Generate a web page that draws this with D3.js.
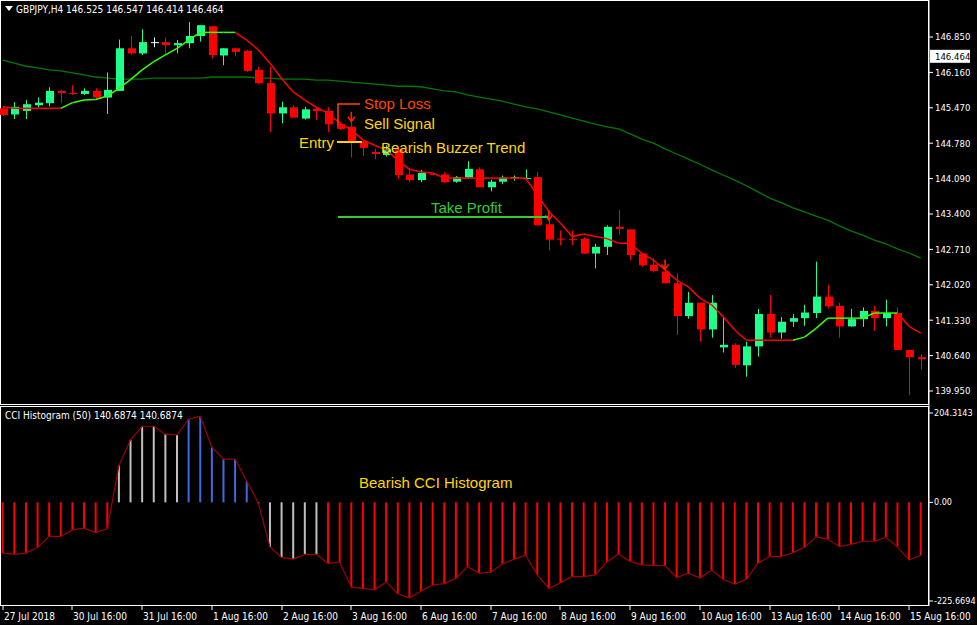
<!DOCTYPE html>
<html><head><meta charset="utf-8">
<script src="https://cdn.jsdelivr.net/npm/d3@7"></script>
<style>body{margin:0;background:#000}svg{display:block}text{font-family:"DejaVu Sans Condensed","DejaVu Sans",sans-serif}.ann{font-family:"Liberation Sans",Arial,sans-serif}</style>
</head><body><svg id="c" width="977" height="625"></svg>
<script>
// GBPJPY H4 candles (open, high, low, close)
var opens  = [145.46,145.34,145.41,145.52,145.56,145.80,145.76,145.74,145.80,145.67,145.80,146.63,146.53,146.75,146.75,146.69,146.73,146.87,147.06,146.49,146.63,146.58,146.21,145.95,145.36,145.48,145.26,145.45,145.41,145.15,145.10,144.82,144.61,144.55,144.66,144.17,144.06,144.18,144.17,144.03,144.11,144.27,143.92,144.03,144.10,144.08,144.12,143.20,142.92,142.91,142.92,142.63,142.76,143.15,143.10,142.63,142.41,142.28,142.05,141.41,141.67,141.15,140.80,140.85,140.45,140.82,141.45,141.09,141.30,141.37,141.47,141.79,141.61,141.21,141.35,141.51,141.37,141.47,140.75,140.61];
var highs  = [145.49,145.58,145.62,145.67,145.87,145.82,145.91,145.85,145.85,146.16,146.80,146.87,147.00,146.84,146.84,146.79,147.14,147.08,147.06,146.63,146.63,146.60,146.27,146.27,145.59,145.52,145.49,145.48,145.48,145.20,145.20,144.82,144.67,144.74,144.68,144.30,144.26,144.22,144.22,144.14,144.43,144.31,144.07,144.15,144.15,144.27,144.22,143.28,143.08,143.08,142.95,142.82,143.18,143.48,143.10,142.63,142.54,142.32,142.24,141.88,141.67,141.82,141.38,140.88,140.91,141.55,141.82,141.39,141.45,141.63,142.47,142.02,141.67,141.55,141.58,141.61,141.73,141.58,140.75,140.67];
var lows   = [145.31,145.25,145.25,145.48,145.50,145.56,145.72,145.72,145.62,145.35,145.80,146.50,146.50,146.65,146.50,146.53,146.63,146.76,146.43,146.30,146.47,146.17,145.93,145.00,145.17,145.28,145.24,145.23,145.00,145.04,144.50,144.53,144.47,144.52,144.08,144.02,144.02,144.15,144.01,144.01,144.09,143.92,143.84,143.98,144.05,144.07,143.18,142.69,142.79,142.79,142.62,142.34,142.60,142.99,142.50,142.37,142.26,142.04,141.04,141.36,140.91,140.99,140.70,140.40,140.23,140.62,140.99,140.97,141.20,141.22,141.37,141.56,140.99,141.20,141.20,141.12,141.21,140.75,139.87,140.37];
var closes = [145.33,145.49,145.54,145.57,145.80,145.76,145.74,145.80,145.67,145.82,146.63,146.53,146.75,146.75,146.69,146.73,146.87,147.08,146.50,146.63,146.56,146.19,145.95,145.36,145.48,145.28,145.44,145.41,145.15,145.06,144.81,144.69,144.57,144.66,144.16,144.06,144.20,144.16,144.02,144.12,144.28,143.92,144.03,144.11,144.12,144.10,143.18,142.90,142.90,142.89,142.63,142.76,143.15,143.11,142.60,142.40,142.29,142.05,141.41,141.67,141.15,141.67,140.85,140.46,140.82,141.45,141.09,141.30,141.37,141.48,141.79,141.60,141.21,141.35,141.51,141.37,141.47,140.75,140.61,140.57];
// slow moving average
var maValues = [146.40,146.34,146.28,146.25,146.21,146.19,146.15,146.11,146.07,146.05,146.03,146.03,146.03,146.05,146.05,146.05,146.05,146.05,146.07,146.07,146.07,146.07,146.05,146.05,146.03,146.03,146.03,146.01,146.01,145.99,145.97,145.95,145.93,145.91,145.89,145.89,145.88,145.84,145.80,145.78,145.72,145.68,145.64,145.60,145.54,145.49,145.45,145.39,145.33,145.27,145.21,145.15,145.10,145.06,144.96,144.86,144.78,144.67,144.57,144.47,144.37,144.26,144.16,144.06,143.95,143.83,143.71,143.62,143.52,143.44,143.36,143.28,143.17,143.07,142.99,142.89,142.82,142.72,142.64,142.54];
// buzzer trend line and its direction (1 bull, -1 bear)
var buzzer = [145.49,145.46,145.46,145.46,145.46,145.46,145.57,145.62,145.63,145.70,145.85,146.02,146.21,146.37,146.50,146.63,146.79,146.94,146.94,146.94,146.94,146.79,146.60,146.34,146.04,145.78,145.62,145.48,145.36,145.17,145.04,144.84,144.74,144.65,144.45,144.27,144.22,144.20,144.10,144.10,144.10,144.10,144.10,144.10,144.10,144.10,143.77,143.45,143.22,142.96,143.01,142.96,142.92,142.83,142.83,142.63,142.50,142.31,142.11,141.98,141.76,141.63,141.40,141.14,140.94,140.94,140.94,140.94,140.94,141.00,141.17,141.37,141.37,141.37,141.37,141.47,141.47,141.47,141.21,141.08];
var trend = [];
for (var t = 0; t < 80; t++) trend.push((t >= 6 && t <= 20) || (t >= 69 && t <= 77) ? 1 : -1);
// CCI histogram (50)
var cci = [-116,-119,-116,-103,-78,-78,-63,-59,-69,-60,84,143,174,174,156,154,190,197,126,99,99,48,-2,-102,-126,-130,-119,-119,-140,-137,-194,-197,-200,-182,-209,-219,-203,-189,-186,-174,-147,-162,-160,-141,-130,-121,-166,-197,-184,-170,-170,-166,-136,-118,-135,-143,-144,-145,-172,-162,-173,-155,-176,-187,-176,-139,-124,-124,-115,-103,-79,-84,-101,-96,-89,-89,-80,-102,-132,-121];
var cciColor = function(i){ return (i>=16&&i<=21) ? "#4169e1" : ((i>=10&&i<=27) ? "#c0c0c0" : "#ff0000"); };
var priceTicks = [146.850,146.160,145.470,144.780,144.090,143.400,142.710,142.020,141.330,140.640,139.950];
var timeLabels = ["27 Jul 2018","30 Jul 16:00","31 Jul 16:00","1 Aug 16:00","2 Aug 16:00","3 Aug 16:00","6 Aug 16:00","7 Aug 16:00","8 Aug 16:00","9 Aug 16:00","10 Aug 16:00","13 Aug 16:00","14 Aug 16:00","15 Aug 16:00"];
var sellArrows = [30, 47, 57];

var svg = d3.select("#c");
var x = d3.scaleLinear().domain([0, 79]).range([2.7, 920.7]);
var y = d3.scaleLinear().domain([139.95, 146.85]).range([391, 37]);
var yc = d3.scaleLinear().domain([-225.6694, 204.3143]).range([601, 413]);

svg.append("rect").attr("width", 977).attr("height", 625).attr("fill", "#000");
// frames
svg.append("rect").attr("x", 0.5).attr("y", 0.5).attr("width", 928).attr("height", 404).attr("fill", "none").attr("stroke", "#fff");
svg.append("rect").attr("x", 0.5).attr("y", 406.5).attr("width", 928).attr("height", 199).attr("fill", "none").attr("stroke", "#fff");

// MA
svg.append("path").datum(maValues)
  .attr("d", d3.line().x(function(d,i){return x(i);}).y(function(d){return y(d);}))
  .attr("fill", "none").attr("stroke", "#007a00").attr("stroke-width", 1.3);

// candles
var ci = d3.range(80);
svg.selectAll(".wick").data(ci).enter().append("line")
  .attr("x1", function(i){return Math.round(x(i))+0.5;}).attr("x2", function(i){return Math.round(x(i))+0.5;})
  .attr("y1", function(i){return y(highs[i]);}).attr("y2", function(i){return y(lows[i]);})
  .attr("stroke", function(i){return i===13 ? "#fff" : closes[i] >= opens[i] ? "#1eff8c" : "#ff0000";});
svg.selectAll(".body").data(ci).enter().append("rect")
  .attr("x", function(i){return Math.round(x(i))-3;}).attr("width", 8)
  .attr("y", function(i){return y(Math.max(opens[i], closes[i]));})
  .attr("height", function(i){return Math.max(1, Math.abs(y(opens[i]) - y(closes[i])));})
  .attr("fill", function(i){return i===13 ? "#fff" : closes[i] >= opens[i] ? "#1eff8c" : "#ff0000";});

// buzzer trend
svg.selectAll(".bz").data(d3.range(79)).enter().append("line")
  .attr("x1", function(i){return x(i);}).attr("x2", function(i){return x(i+1);})
  .attr("y1", function(i){return y(buzzer[i]);}).attr("y2", function(i){return y(buzzer[i+1]);})
  .attr("stroke", function(i){return trend[i+1] > 0 ? "#33ff00" : "#ff0000";}).attr("stroke-width", 1.5);

// sell arrows
svg.selectAll(".arr").data(sellArrows).enter().append("path")
  .attr("d", function(i){var cx=x(i), cy=y(highs[i])-10; return "M"+cx+","+cy+"v9M"+(cx-3.5)+","+(cy+5)+"L"+cx+","+(cy+10)+"L"+(cx+3.5)+","+(cy+5);})
  .attr("stroke", "#ff2000").attr("stroke-width", 1.6).attr("fill", "none");

// annotations
svg.append("path").attr("d", "M338,125V104H360").attr("stroke", "#ff4500").attr("stroke-width", 1.5).attr("fill", "none");
svg.append("text").attr("class", "ann").attr("x", 364).attr("y", 109).text("Stop Loss").attr("fill", "#ff4500").attr("font-size", 15);
svg.append("text").attr("class", "ann").attr("x", 364).attr("y", 129).text("Sell Signal").attr("fill", "#ffd700").attr("font-size", 15);
svg.append("line").attr("x1", 337).attr("x2", 362).attr("y1", 142).attr("y2", 142).attr("stroke", "#ffd700").attr("stroke-width", 2);
svg.append("text").attr("class", "ann").attr("x", 299).attr("y", 148).text("Entry").attr("fill", "#ffd700").attr("font-size", 15);
svg.append("text").attr("class", "ann").attr("x", 381).attr("y", 153).text("Bearish Buzzer Trend").attr("fill", "#ffd700").attr("font-size", 15);
svg.append("line").attr("x1", 338).attr("x2", 548).attr("y1", 217).attr("y2", 217).attr("stroke", "#32cd32").attr("stroke-width", 2);
svg.append("text").attr("class", "ann").attr("x", 431).attr("y", 213).text("Take Profit").attr("fill", "#32cd32").attr("font-size", 15);
svg.append("text").attr("class", "ann").attr("x", 359).attr("y", 488).text("Bearish CCI Histogram").attr("fill", "#ffd700").attr("font-size", 15);

// header texts
svg.append("path").attr("d", "M5,6L13,6L9,11Z").attr("fill", "#fff");
svg.append("text").attr("x", 16).attr("y", 13).text("GBPJPY,H4  146.525 146.547 146.414 146.464").attr("fill", "#fff").attr("font-size", 10);
svg.append("text").attr("x", 5).attr("y", 419).text("CCI Histogram (50) 140.6874 140.6874").attr("fill", "#fff").attr("font-size", 10);

// CCI histogram
svg.selectAll(".hb").data(cci).enter().append("line")
  .attr("x1", function(d,i){return x(i);}).attr("x2", function(d,i){return x(i);})
  .attr("y1", yc(0)).attr("y2", function(d){return yc(d);})
  .attr("stroke", function(d,i){return cciColor(i);}).attr("stroke-width", 2);
svg.append("path").datum(cci)
  .attr("d", d3.line().x(function(d,i){return x(i);}).y(function(d){return yc(d);}))
  .attr("fill", "none").attr("stroke", "#a00000").attr("stroke-width", 1.2);

// right axes
var ra = svg.append("g").attr("transform", "translate(929,0)");
ra.append("line").attr("y1", 0).attr("y2", 606).attr("stroke", "#fff");
var pa = ra.selectAll(".pt").data(priceTicks).enter().append("g").attr("transform", function(d){return "translate(0,"+y(d)+")";});
pa.append("line").attr("x2", 4).attr("stroke", "#fff");
pa.append("text").attr("x", 6).attr("dy", "0.35em").text(function(d){return d.toFixed(3);}).attr("fill", "#fff").attr("font-size", 9.5);
ra.append("rect").attr("x", 1).attr("y", y(146.464)-7).attr("width", 40).attr("height", 13).attr("fill", "#fff");
ra.append("text").attr("x", 6).attr("y", y(146.464)).attr("dy", "0.35em").text("146.464").attr("fill", "#000").attr("font-size", 9.5);
var ca = ra.selectAll(".ct").data([204.3143, 0, -225.6694]).enter().append("g").attr("transform", function(d){return "translate(0,"+yc(d)+")";});
ca.append("line").attr("x2", 4).attr("stroke", "#fff");
ca.append("text").attr("x", 5).attr("dy", "0.35em").text(function(d){return d === 0 ? "0.00" : d.toFixed(4);}).attr("fill", "#fff").attr("font-size", 9);

// time axis
var ta = svg.selectAll(".tt").data(timeLabels).enter().append("g").attr("transform", function(d,i){return "translate("+Math.round(x(i*6))+",606)";});
ta.append("line").attr("y2", 4).attr("stroke", "#fff");
ta.append("text").attr("x", 1).attr("y", 14).text(function(d){return d;}).attr("fill", "#fff").attr("font-size", 10);
</script></body></html>
